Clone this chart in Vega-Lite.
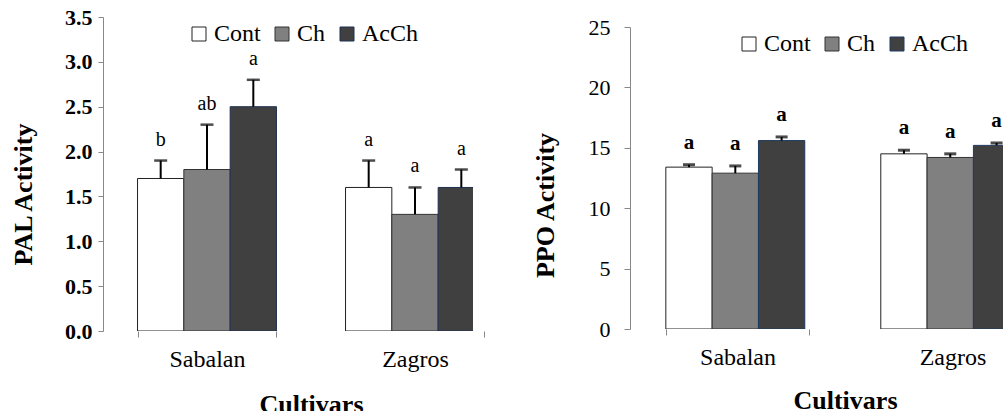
{
  "$schema": "https://vega.github.io/schema/vega-lite/v6.json",
  "padding": {"left": 10, "top": 6, "right": 0, "bottom": 0},
  "background": "white",
  "config": {
    "view": {"stroke": null},
    "font": "Liberation Serif",
    "axis": {"grid": false, "domainColor": "#888888", "tickColor": "#888888", "labelColor": "#000000", "titleColor": "#000000", "labelFont": "Liberation Serif", "titleFont": "Liberation Serif"}
  },
  "datasets": {
    "pal": [
      {"Cultivar": "Sabalan", "Treatment": "Cont", "mean": 1.7, "hi": 1.9, "letter": "b"},
      {"Cultivar": "Sabalan", "Treatment": "Ch", "mean": 1.8, "hi": 2.3, "letter": "ab"},
      {"Cultivar": "Sabalan", "Treatment": "AcCh", "mean": 2.5, "hi": 2.8, "letter": "a"},
      {"Cultivar": "Zagros", "Treatment": "Cont", "mean": 1.6, "hi": 1.9, "letter": "a"},
      {"Cultivar": "Zagros", "Treatment": "Ch", "mean": 1.3, "hi": 1.6, "letter": "a"},
      {"Cultivar": "Zagros", "Treatment": "AcCh", "mean": 1.6, "hi": 1.8, "letter": "a"}
    ],
    "ppo": [
      {"Cultivar": "Sabalan", "Treatment": "Cont", "mean": 13.4, "hi": 13.6, "letter": "a"},
      {"Cultivar": "Sabalan", "Treatment": "Ch", "mean": 12.9, "hi": 13.5, "letter": "a"},
      {"Cultivar": "Sabalan", "Treatment": "AcCh", "mean": 15.6, "hi": 15.9, "letter": "a"},
      {"Cultivar": "Zagros", "Treatment": "Cont", "mean": 14.5, "hi": 14.8, "letter": "a"},
      {"Cultivar": "Zagros", "Treatment": "Ch", "mean": 14.2, "hi": 14.5, "letter": "a"},
      {"Cultivar": "Zagros", "Treatment": "AcCh", "mean": 15.2, "hi": 15.4, "letter": "a"}
    ]
  },
  "bounds": "flush",
  "spacing": 157,
  "resolve": {"scale": {"fill": "independent", "stroke": "independent"}, "legend": {"fill": "independent", "stroke": "independent"}},
  "hconcat": [
    {
      "width": 370,
      "height": 314,
      "data": {"name": "pal"},
      "encoding": {
        "x": {"field": "Cultivar", "type": "nominal", "sort": ["Sabalan", "Zagros"],
          "scale": {"range": [0, 416], "paddingInner": 0.332, "paddingOuter": 0.166},
          "axis": {"title": "Cultivars", "titleFont": "Liberation Serif", "titleFontSize": 26, "titleFontWeight": "bold", "titlePadding": 20, "labelAngle": 0, "labelFont": "Liberation Serif", "labelFontSize": 24, "labelPadding": 10, "domain": false, "tickBand": "extent", "tickSize": 6}},
        "xOffset": {"field": "Treatment", "type": "nominal", "sort": ["Cont", "Ch", "AcCh"], "scale": {"paddingInner": 0, "paddingOuter": 0}}
      },
      "layer": [
        {
          "mark": {"type": "bar", "clip": true, "strokeWidth": 1},
          "encoding": {
            "y": {"field": "mean", "type": "quantitative", "scale": {"domain": [0, 3.5], "nice": false},
              "axis": {"title": "PAL  Activity", "values": [0, 0.5, 1, 1.5, 2, 2.5, 3, 3.5], "format": ".1f", "labelFont": "Liberation Serif", "labelFontSize": 22, "labelFontWeight": "bold", "labelPadding": 6, "tickSize": 5, "titleFont": "Liberation Serif", "titleFontSize": 26, "titleFontWeight": "bold", "titleX": -80, "titleY": 177, "titleBaseline": "middle"}},
            "fill": {"field": "Treatment", "type": "nominal", "scale": {"domain": ["Cont", "Ch", "AcCh"], "range": ["#ffffff", "#808080", "#404040"]},
              "legend": {"title": null, "orient": "none", "legendX": 84, "legendY": 5, "direction": "horizontal", "symbolType": "square", "symbolSize": 196, "symbolStrokeWidth": 1, "labelFont": "Liberation Serif", "labelFontSize": 24, "labelColor": "#000000", "labelOffset": 3, "columnPadding": 9}},
            "stroke": {"field": "Treatment", "type": "nominal", "scale": {"domain": ["Cont", "Ch", "AcCh"], "range": ["#222222", "#333333", "#1f3050"]},
              "legend": {"title": null, "orient": "none", "legendX": 84, "legendY": 5, "direction": "horizontal", "symbolType": "square", "symbolSize": 196, "symbolStrokeWidth": 1, "labelFont": "Liberation Serif", "labelFontSize": 24, "labelColor": "#000000", "labelOffset": 3, "columnPadding": 9}}
          }
        },
        {
          "mark": {"type": "rule", "clip": true, "color": "#000000", "strokeWidth": 2},
          "encoding": {"y": {"field": "mean", "type": "quantitative"}, "y2": {"field": "hi"}}
        },
        {
          "mark": {"type": "tick", "clip": true, "orient": "horizontal", "color": "#000000", "size": 13, "thickness": 2.5},
          "encoding": {"y": {"field": "hi", "type": "quantitative"}}
        },
        {
          "mark": {"type": "text", "clip": true, "font": "Liberation Serif", "fontSize": 20, "color": "#000000", "baseline": "alphabetic", "dy": -15},
          "encoding": {"y": {"field": "hi", "type": "quantitative"}, "text": {"field": "letter"}}
        },
        {
          "mark": {"type": "rule", "color": "#888888", "strokeWidth": 1},
          "encoding": {"y": {"datum": 0}}
        }
      ]
    },
    {
      "width": 374,
      "height": 312,
      "data": {"name": "ppo"},
      "encoding": {
        "x": {"field": "Cultivar", "type": "nominal", "sort": ["Sabalan", "Zagros"],
          "scale": {"range": [0, 430], "paddingInner": 0.333, "paddingOuter": 0.1667},
          "axis": {"title": "Cultivars", "titleFont": "Liberation Serif", "titleFontSize": 26, "titleFontWeight": "bold", "titlePadding": 18, "labelAngle": 0, "labelFont": "Liberation Serif", "labelFontSize": 24, "labelPadding": 10, "domain": false, "tickBand": "extent", "tickSize": 6}},
        "xOffset": {"field": "Treatment", "type": "nominal", "sort": ["Cont", "Ch", "AcCh"], "scale": {"paddingInner": 0, "paddingOuter": 0}}
      },
      "layer": [
        {
          "mark": {"type": "bar", "clip": true, "strokeWidth": 1},
          "encoding": {
            "y": {"field": "mean", "type": "quantitative", "scale": {"domain": [0, 25], "nice": false, "range": [312, 10]},
              "axis": {"title": "PPO  Activity", "values": [0, 5, 10, 15, 20, 25], "format": "d", "labelFont": "Liberation Serif", "labelFontSize": 22, "labelPadding": 14, "tickSize": 6, "titleFont": "Liberation Serif", "titleFontSize": 26, "titleFontWeight": "bold", "titleX": -85, "titleY": 188, "titleBaseline": "middle"}},
            "fill": {"field": "Treatment", "type": "nominal", "scale": {"domain": ["Cont", "Ch", "AcCh"], "range": ["#ffffff", "#808080", "#404040"]},
              "legend": {"title": null, "orient": "none", "legendX": 107, "legendY": 15, "direction": "horizontal", "symbolType": "square", "symbolSize": 196, "symbolStrokeWidth": 1, "labelFont": "Liberation Serif", "labelFontSize": 24, "labelColor": "#000000", "labelOffset": 3, "columnPadding": 9}},
            "stroke": {"field": "Treatment", "type": "nominal", "scale": {"domain": ["Cont", "Ch", "AcCh"], "range": ["#222222", "#333333", "#1f3a60"]},
              "legend": {"title": null, "orient": "none", "legendX": 107, "legendY": 15, "direction": "horizontal", "symbolType": "square", "symbolSize": 196, "symbolStrokeWidth": 1, "labelFont": "Liberation Serif", "labelFontSize": 24, "labelColor": "#000000", "labelOffset": 3, "columnPadding": 9}}
          }
        },
        {
          "mark": {"type": "rule", "clip": true, "color": "#000000", "strokeWidth": 2},
          "encoding": {"y": {"field": "mean", "type": "quantitative"}, "y2": {"field": "hi"}}
        },
        {
          "mark": {"type": "tick", "clip": true, "orient": "horizontal", "color": "#000000", "size": 12, "thickness": 3},
          "encoding": {"y": {"field": "hi", "type": "quantitative"}}
        },
        {
          "mark": {"type": "text", "clip": true, "font": "Liberation Serif", "fontSize": 21, "fontWeight": "bold", "color": "#000000", "baseline": "alphabetic", "dy": -16},
          "encoding": {"y": {"field": "hi", "type": "quantitative"}, "text": {"field": "letter"}}
        },
        {
          "mark": {"type": "rule", "color": "#888888", "strokeWidth": 1},
          "encoding": {"y": {"datum": 0}}
        }
      ]
    }
  ]
}
